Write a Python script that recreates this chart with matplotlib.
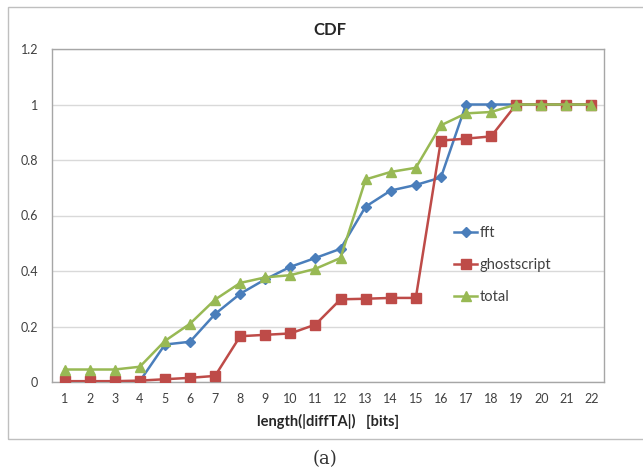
"""
CDF of length(|diffTA|) for fft, ghostscript and total (Excel-style line chart).
"""

import matplotlib
matplotlib.use("Agg")
import matplotlib.pyplot as plt
from matplotlib.patches import Rectangle

# length in bits (x axis)
bits = list(range(1, 23))

# CDF values
fft = [0.0, 0.0, 0.0, 0.003, 0.135, 0.145, 0.245, 0.318, 0.37, 0.415, 0.447,
       0.48, 0.632, 0.69, 0.71, 0.737, 1.0, 1.0, 1.0, 1.0, 1.0, 1.0]
ghostscript = [0.003, 0.003, 0.003, 0.005, 0.01, 0.015, 0.022, 0.165, 0.17, 0.175,
               0.207, 0.298, 0.3, 0.303, 0.303, 0.87, 0.877, 0.885, 1.0, 1.0, 1.0, 1.0]
total = [0.045, 0.045, 0.045, 0.055, 0.148, 0.21, 0.297, 0.357, 0.377, 0.385,
         0.408, 0.447, 0.73, 0.757, 0.772, 0.925, 0.968, 0.973, 1.0, 1.0, 1.0, 1.0]

series_names = ["fft", "ghostscript", "total"]
y_ticks = [0, 0.2, 0.4, 0.6, 0.8, 1.0, 1.2]
y_tick_labels = ["0", "0.2", "0.4", "0.6", "0.8", "1", "1.2"]

plt.rcParams["font.family"] = ["Lato", "DejaVu Sans"]

fig = plt.figure(figsize=(6.43, 4.70), dpi=100)
fig.patch.set_facecolor("white")

# outer chart-area frame (Excel style), right edge runs off the image
frame = Rectangle((8 / 643, (470 - 439) / 470), 640 / 643, (439 - 7) / 470,
                  transform=fig.transFigure, fill=False, edgecolor="#bfbfbf",
                  linewidth=1.0)
fig.patches.append(frame)

ax = fig.add_axes([52 / 643, (470 - 382) / 470, (604 - 52) / 643, (382 - 49) / 470])

styles = [
    (fft, "#4a7ebb", "D", 5.5),
    (ghostscript, "#be4b48", "s", 6.5),
    (total, "#98b954", "^", 7),
]
for (vals, color, marker, ms), name in zip(styles, series_names):
    ax.plot(bits, vals, color=color, marker=marker, markersize=ms,
            markeredgecolor=color, linewidth=1.8, label=name, zorder=3)

ax.set_xlim(0.5, 22.5)
ax.set_ylim(0, 1.2)
ax.set_xticks(bits)
ax.set_xticklabels([str(b) for b in bits])
ax.set_yticks(y_ticks)
ax.set_yticklabels(y_tick_labels)
ax.tick_params(axis="both", length=0, labelsize=9, colors="#404040")
ax.tick_params(axis="x", pad=8)
ax.tick_params(axis="y", pad=10)

ax.grid(axis="y", color="#d9d9d9", linewidth=1.0, zorder=0)
ax.set_axisbelow(True)
for side in ["left", "bottom", "top", "right"]:
    ax.spines[side].set_color("#a6a6a6")
    ax.spines[side].set_linewidth(1.0)

ax.set_xlabel("length(|diffTA|)   [bits]", fontsize=10.5, fontweight="bold",
              color="#262626", labelpad=6)
fig.text(330 / 643, 1 - 30 / 470, "CDF", ha="center", va="center",
         fontsize=12, fontweight="bold", color="#262626")

leg = ax.legend(loc="center left", bbox_to_anchor=(0.728, 0.351), frameon=False,
                fontsize=10.5, handlelength=1.6, handletextpad=0.15,
                labelspacing=1.25, borderpad=0, borderaxespad=0,
                labelcolor="#404040")

fig.text(325 / 643, 1 - 459 / 470, "(a)", ha="center", va="center",
         fontsize=13, family="DejaVu Serif", color="#333333")

fig.savefig("out.png", dpi=100)
